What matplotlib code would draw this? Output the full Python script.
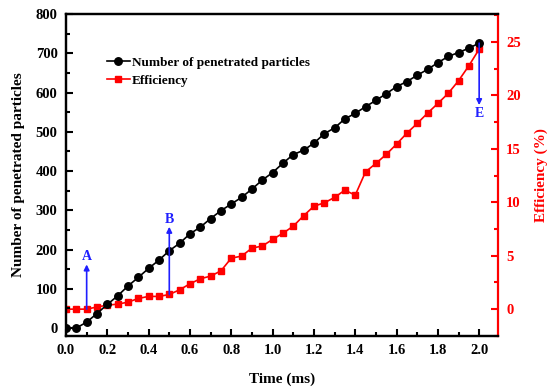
import numpy as np
import matplotlib.pyplot as plt
from matplotlib.ticker import MultipleLocator

plt.rcParams['font.family'] = ['Liberation Serif', 'DejaVu Serif']
plt.rcParams['font.weight'] = 'bold'

# time (ms)
time = [0.0, 0.05, 0.1, 0.15, 0.2, 0.25, 0.3, 0.35, 0.4, 0.45,
        0.5, 0.55, 0.6, 0.65, 0.7, 0.75, 0.8, 0.85, 0.9, 0.95,
        1.0, 1.05, 1.1, 1.15, 1.2, 1.25, 1.3, 1.35, 1.4, 1.45,
        1.5, 1.55, 1.6, 1.65, 1.7, 1.75, 1.8, 1.85, 1.9, 1.95, 2.0]

# number of penetrated particles
particles = [0, 0, 15, 37, 60, 82, 107, 129, 152, 173,
             197, 216, 240, 257, 279, 299, 316, 333, 354, 377,
             396, 420, 442, 453, 471, 495, 510, 533, 547, 564,
             580, 597, 615, 628, 644, 659, 676, 692, 702, 713, 726]

# efficiency (%)
efficiency = [0, 0, 0, 0.2, 0.37, 0.47, 0.65, 1.0, 1.19, 1.19,
              1.37, 1.81, 2.37, 2.84, 3.09, 3.58, 4.77, 4.96, 5.71, 5.9,
              6.52, 7.1, 7.76, 8.73, 9.63, 9.94, 10.45, 11.13, 10.66, 12.84,
              13.63, 14.47, 15.43, 16.46, 17.37, 18.33, 19.24, 20.18, 21.36, 22.76, 24.32]

fig = plt.figure(figsize=(5.5, 3.91), dpi=100)
ax = fig.add_axes([0.12, 0.141, 0.785, 0.823])
ax2 = ax.twinx()
ax.set_zorder(ax2.get_zorder() + 1)
ax.patch.set_visible(False)

l1, = ax.plot(time, particles, '-o', color='black', lw=1.2, ms=5.4,
              label='Number of penetrated particles')
l2, = ax2.plot(time, efficiency, '-s', color='red', lw=1.2, ms=4.4,
               label='Efficiency')

ax.set_xlim(0, 2.09)
ax.set_ylim(-20, 800)
ax2.set_ylim(-2.5, 27.6)

ax.xaxis.set_major_locator(MultipleLocator(0.2))
ax.xaxis.set_minor_locator(MultipleLocator(0.1))
ax.yaxis.set_major_locator(MultipleLocator(100))
ax.yaxis.set_minor_locator(MultipleLocator(50))
ax2.yaxis.set_major_locator(MultipleLocator(5))
ax2.yaxis.set_minor_locator(MultipleLocator(2.5))

ax.tick_params(which='both', direction='in', top=False, right=False,
               width=1.5, labelsize=10.5, pad=6)
ax.tick_params(which='major', length=5)
ax.tick_params(which='minor', length=3)
ax2.tick_params(which='both', direction='in', colors='red', width=1.5,
                labelsize=10.5, pad=6)
ax2.tick_params(which='major', length=5)
ax2.tick_params(which='minor', length=3)
ax.xaxis.set_major_formatter(plt.FuncFormatter(lambda v, p: f'{v:.1f}'))

for s in ax.spines.values():
    s.set_linewidth(1.6)
for s in ax2.spines.values():
    s.set_linewidth(1.6)
ax2.spines['right'].set_color('red')
ax.spines['right'].set_visible(False)

ax.set_xlabel('Time (ms)', fontsize=11, fontweight='bold', labelpad=11)
ax.set_ylabel('Number of penetrated particles', fontsize=11, fontweight='bold', labelpad=8)
ax2.set_ylabel('Efficiency (%)', fontsize=11, fontweight='bold', color='red', labelpad=10)

# annotations (arrows from points)
blue = '#1f1fff'
arrow = dict(arrowstyle='-|>', color=blue, lw=1.2, mutation_scale=8,
             shrinkA=0, shrinkB=0)
ax.annotate('', xy=(0.1, 162), xycoords='data',
            xytext=(time[2], efficiency[2]), textcoords=ax2.transData,
            arrowprops=arrow)
ax.text(0.1, 165, 'A', color=blue, fontsize=10, fontweight='bold',
        ha='center', va='bottom')
ax.annotate('', xy=(0.5, 258), xycoords='data',
            xytext=(time[10], efficiency[10]), textcoords=ax2.transData,
            arrowprops=arrow)
ax.text(0.5, 261, 'B', color=blue, fontsize=10, fontweight='bold',
        ha='center', va='bottom')
ax.annotate('', xy=(2.0, 568), xycoords='data',
            xytext=(time[-1], particles[-1]), textcoords='data',
            arrowprops=arrow)
ax.text(2.0, 563, 'E', color=blue, fontsize=10, fontweight='bold',
        ha='center', va='top')

leg = ax.legend(handles=[l1, l2], loc='upper left', bbox_to_anchor=(0.068, 0.905),
                frameon=False, fontsize=9.5, handlelength=1.7, handletextpad=0.15,
                labelspacing=0.45)
for t in leg.get_texts():
    t.set_fontweight('bold')

fig.savefig('out.png', dpi=100)
